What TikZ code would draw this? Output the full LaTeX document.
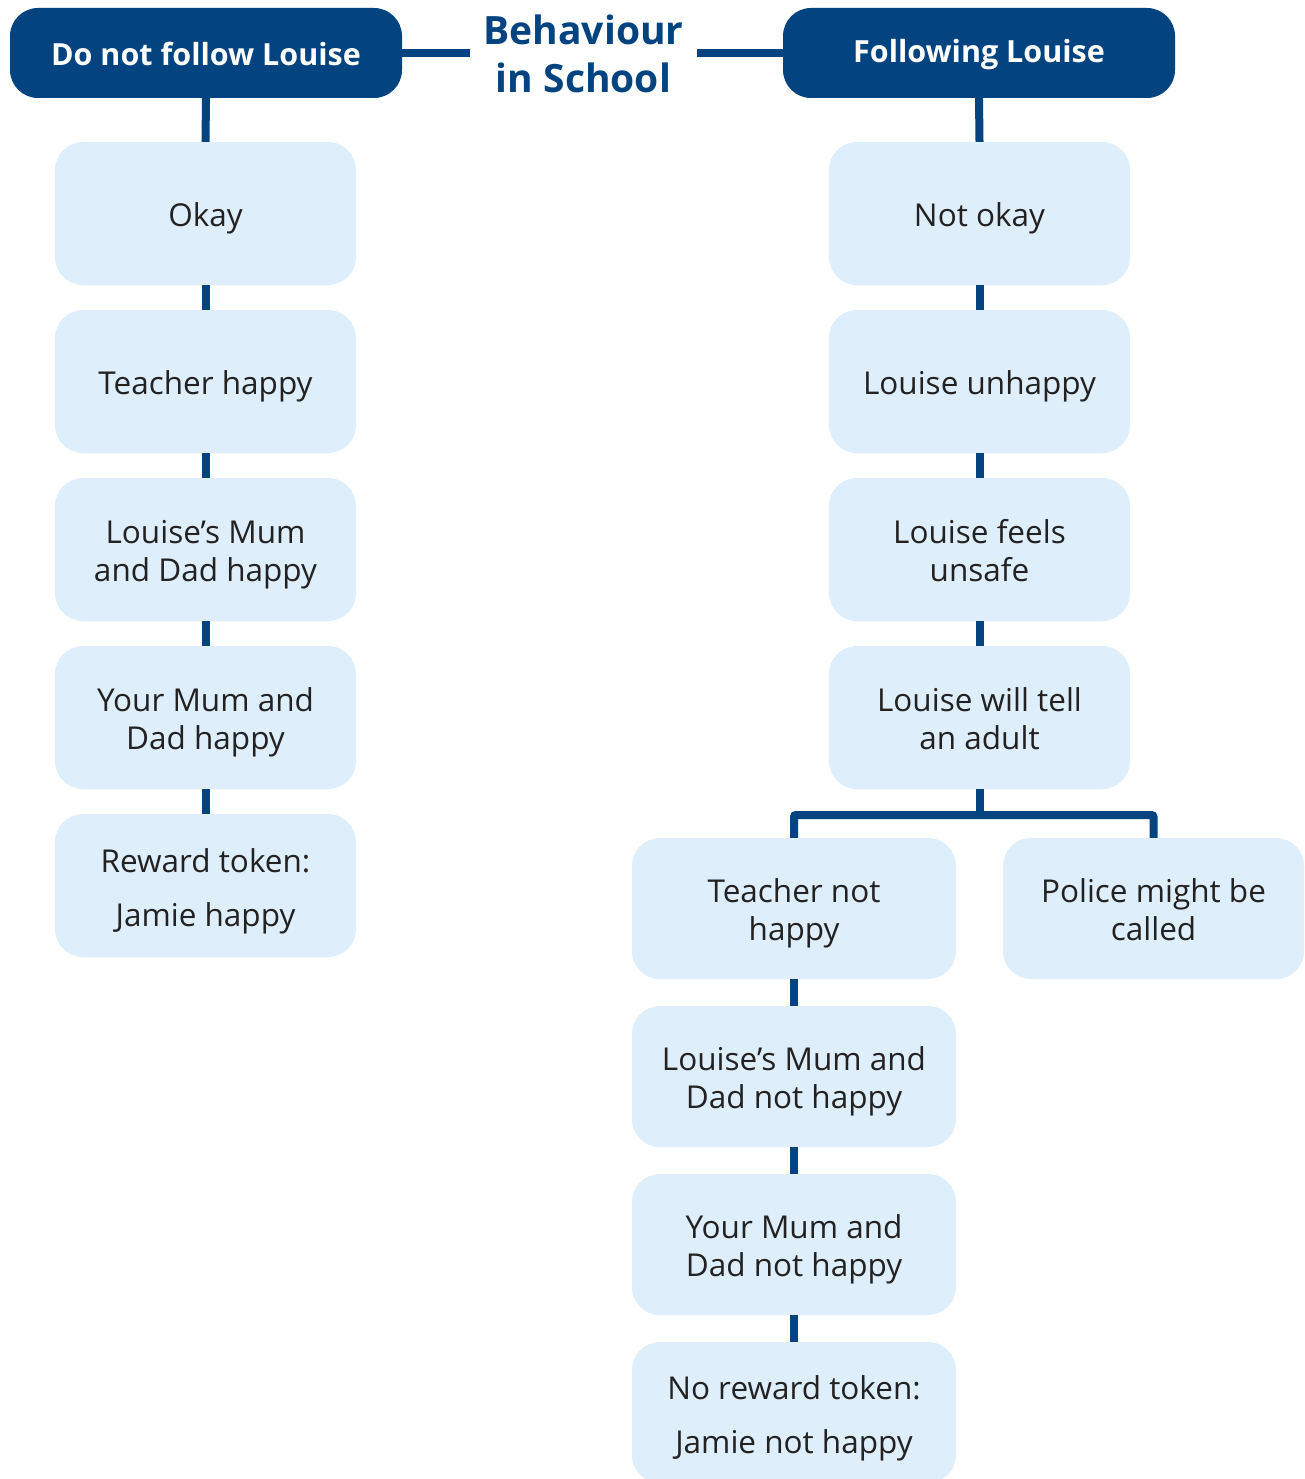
\documentclass[tikz,border=0pt]{standalone}
\usepackage{fontspec}
\setmainfont{Open Sans}
\definecolor{navy}{RGB}{3,67,127}
\definecolor{pale}{RGB}{222,238,251}
\definecolor{ink}{RGB}{34,34,34}
\begin{document}
\begin{tikzpicture}[x=1pt,y=-1pt,
  head/.style={fill=navy, text=white, rounded corners=28pt, minimum width=392pt, minimum height=90pt, inner sep=0pt, text height=26pt, font=\fontsize{30.5}{36}\selectfont\bfseries},
  box/.style={fill=pale, text=ink, rounded corners=28pt, minimum width=301pt, minimum height=143pt, inner sep=0pt, align=center, text height=72pt, text depth=7.5pt, font=\fontsize{31.5}{38}\selectfont},
  single/.style={text height=33pt},
  tall/.style={text height=89pt, font=\fontsize{31.5}{54}\selectfont},
  wbox/.style={box, minimum width=324pt, minimum height=141pt},
  pbox/.style={box, minimum height=141pt},
  link/.style={draw=navy, line width=8pt},
]
\useasboundingbox (0,0) rectangle (1305,1479);
\fill[white] (0,0) rectangle (1305,1479);
% headers
\node[head] (L) at (206,53) {Do not follow Louise};
\node[head] (R) at (979,53) {Following Louise};
\node[text=navy, align=center, minimum width=227pt, inner sep=0pt, font=\fontsize{39}{48}\selectfont\bfseries] (T) at (583.5,54) {Behaviour\\in School};
% left column
\node[box, single] (l1) at (205.5,213.5) {Okay};
\node[box, single] (l2) at (205.5,381.5) {Teacher happy};
\node[box] (l3) at (205.5,549.5) {Louise’s Mum\\and Dad happy};
\node[box] (l4) at (205.5,717.5) {Your Mum and\\Dad happy};
\node[box, tall] (l5) at (205.5,885.5) {Reward token:\\Jamie happy};
% right column
\node[box, single] (r1) at (979.5,213.5) {Not okay};
\node[box, single] (r2) at (979.5,381.5) {Louise unhappy};
\node[box] (r3) at (979.5,549.5) {Louise feels\\unsafe};
\node[box] (r4) at (979.5,717.5) {Louise will tell\\an adult};
\node[wbox] (w1) at (794,908.5) {Teacher not\\happy};
\node[pbox] (p) at (1153.5,908.5) {Police might be\\called};
\node[wbox] (w2) at (794,1076.5) {Louise’s Mum and\\Dad not happy};
\node[wbox] (w3) at (794,1244.5) {Your Mum and\\Dad not happy};
\node[wbox, tall] (w4) at (794,1412.5) {No reward token:\\Jamie not happy};
\coordinate (br) at (979.5,815);
% connectors
\draw[link] (L.east) -- (T.west |- L.east);
\draw[link] (T.east |- R.west) -- (R.west);
\draw[link] (L.south) -- (l1.north);
\draw[link] (l1.south) -- (l2.north);
\draw[link] (l2.south) -- (l3.north);
\draw[link] (l3.south) -- (l4.north);
\draw[link] (l4.south) -- (l5.north);
\draw[link] (R.south) -- (r1.north);
\draw[link] (r1.south) -- (r2.north);
\draw[link] (r2.south) -- (r3.north);
\draw[link] (r3.south) -- (r4.north);
\draw[link] (r4.south) -- (br);
\draw[link, rounded corners=2pt] (w1.north) |- (br) -| (p.north);
\draw[link] (w1.south) -- (w2.north);
\draw[link] (w2.south) -- (w3.north);
\draw[link] (w3.south) -- (w4.north);
\end{tikzpicture}
\end{document}
